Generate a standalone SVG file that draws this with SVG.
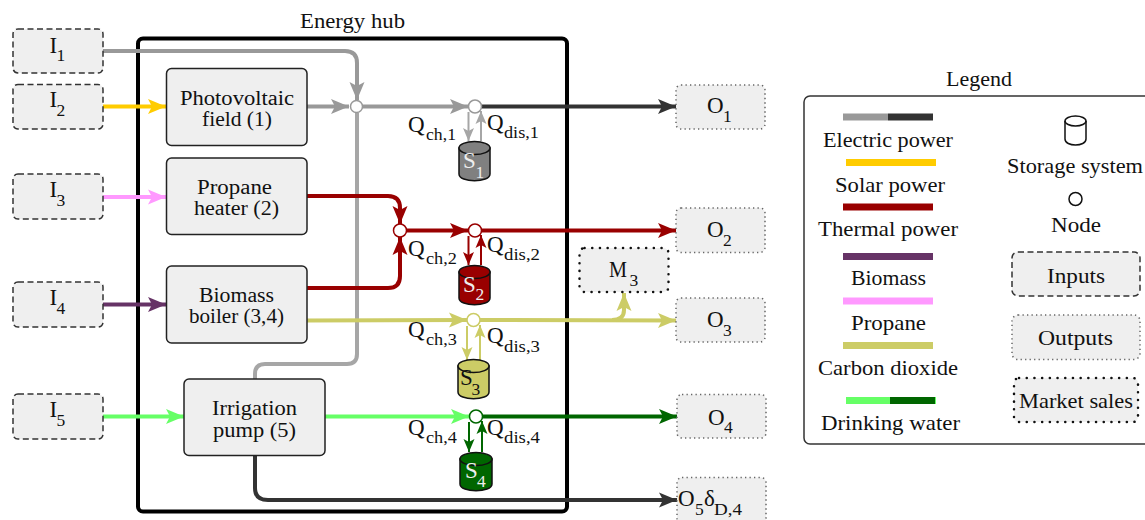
<svg xmlns="http://www.w3.org/2000/svg" width="1145" height="520" viewBox="0 0 1145 520">
<style>
text{font-family:"Liberation Serif","Times New Roman",serif;font-size:21px;fill:#111}
text.b{font-size:23px}
text.s{font-size:17.5px}
text.l{font-size:20px}
text.w{fill:#eee}
.box{fill:#efefef;stroke:#222;stroke-width:1.5}
.in{fill:#efefef;stroke:#333;stroke-width:1.5;stroke-dasharray:6 3.5}
.out{fill:#efefef;stroke:#666;stroke-width:1.5;stroke-dasharray:1.3 3.2}
.mk{fill:#efefef;stroke:#111;stroke-width:2.5;stroke-dasharray:0.1 7.6;stroke-linecap:round}
.c{fill:none;stroke-width:4}
.t{fill:none;stroke-width:2}
.n{fill:#fff;stroke-width:1.5}
.cy{stroke:#111;stroke-width:1.5}
.cf{fill:none;stroke:#111;stroke-width:1.5}
.g{stroke:#999}.gl{stroke:#a6a6a6}.d{stroke:#333}.y{stroke:#fc0}.r{stroke:#900}.p{stroke:#636}.v{stroke:#f9f}.o{stroke:#cc6}.lg{stroke:#6f6}.dg{stroke:#060}
</style>
<defs>
<marker id="ag" markerUnits="userSpaceOnUse" markerWidth="20" markerHeight="18" refX="18" refY="8" orient="auto" overflow="visible"><path d="M0,0.5 L18,8 L0,15.5 L4,8Z" fill="#999"/></marker>
<marker id="ad" markerUnits="userSpaceOnUse" markerWidth="20" markerHeight="18" refX="18" refY="8" orient="auto" overflow="visible"><path d="M0,0.5 L18,8 L0,15.5 L4,8Z" fill="#333"/></marker>
<marker id="ay" markerUnits="userSpaceOnUse" markerWidth="20" markerHeight="18" refX="18" refY="8" orient="auto" overflow="visible"><path d="M0,0.5 L18,8 L0,15.5 L4,8Z" fill="#fc0"/></marker>
<marker id="ar" markerUnits="userSpaceOnUse" markerWidth="20" markerHeight="18" refX="18" refY="8" orient="auto" overflow="visible"><path d="M0,0.5 L18,8 L0,15.5 L4,8Z" fill="#900"/></marker>
<marker id="ap" markerUnits="userSpaceOnUse" markerWidth="20" markerHeight="18" refX="18" refY="8" orient="auto" overflow="visible"><path d="M0,0.5 L18,8 L0,15.5 L4,8Z" fill="#636"/></marker>
<marker id="av" markerUnits="userSpaceOnUse" markerWidth="20" markerHeight="18" refX="18" refY="8" orient="auto" overflow="visible"><path d="M0,0.5 L18,8 L0,15.5 L4,8Z" fill="#f9f"/></marker>
<marker id="ao" markerUnits="userSpaceOnUse" markerWidth="20" markerHeight="18" refX="18" refY="8" orient="auto" overflow="visible"><path d="M0,0.5 L18,8 L0,15.5 L4,8Z" fill="#cc6"/></marker>
<marker id="al" markerUnits="userSpaceOnUse" markerWidth="20" markerHeight="18" refX="18" refY="8" orient="auto" overflow="visible"><path d="M0,0.5 L18,8 L0,15.5 L4,8Z" fill="#6f6"/></marker>
<marker id="ae" markerUnits="userSpaceOnUse" markerWidth="20" markerHeight="18" refX="18" refY="8" orient="auto" overflow="visible"><path d="M0,0.5 L18,8 L0,15.5 L4,8Z" fill="#060"/></marker>
<marker id="tg" markerUnits="userSpaceOnUse" markerWidth="14" markerHeight="14" refX="13" refY="6" orient="auto" overflow="visible"><path d="M0,0.5 L13,6 L0,11.5 L3,6Z" fill="#a6a6a6"/></marker>
<marker id="tr" markerUnits="userSpaceOnUse" markerWidth="14" markerHeight="14" refX="13" refY="6" orient="auto" overflow="visible"><path d="M0,0.5 L13,6 L0,11.5 L3,6Z" fill="#900"/></marker>
<marker id="to" markerUnits="userSpaceOnUse" markerWidth="14" markerHeight="14" refX="13" refY="6" orient="auto" overflow="visible"><path d="M0,0.5 L13,6 L0,11.5 L3,6Z" fill="#cc6"/></marker>
<marker id="te" markerUnits="userSpaceOnUse" markerWidth="14" markerHeight="14" refX="13" refY="6" orient="auto" overflow="visible"><path d="M0,0.5 L13,6 L0,11.5 L3,6Z" fill="#060"/></marker>
</defs>

<g id="hub">
<rect x="138" y="38.5" width="429" height="473" rx="5" fill="none" stroke="#000" stroke-width="4"/>
<text x="300" y="28" textLength="105" lengthAdjust="spacingAndGlyphs">Energy hub</text>
</g>

<g id="connectors">
<path class="c g" marker-end="url(#ag)" d="M103,51 H345 Q357,51 357,63 V100"/>
<path class="c gl" d="M255,379 V374 Q255,364 265,364 H347 Q357,364 357,354 V113"/>
<path class="c y" marker-end="url(#ay)" d="M103,106.5 H166"/>
<path class="c v" marker-end="url(#av)" d="M103,197 H166"/>
<path class="c p" marker-end="url(#ap)" d="M103,304.5 H166"/>
<path class="c lg" marker-end="url(#al)" d="M103,416.5 H184"/>
<path class="c g" marker-end="url(#ag)" d="M307,106.5 H349"/>
<path class="c g" marker-end="url(#ag)" d="M362,106.5 H468"/>
<path class="c d" marker-end="url(#ad)" d="M481,106.5 H676"/>
<path class="c r" marker-end="url(#ar)" d="M307,196 H388 Q400,196 400,208 V224"/>
<path class="c r" marker-end="url(#ar)" d="M307,288 H388 Q400,288 400,276 V237"/>
<path class="c r" marker-end="url(#ar)" d="M406,230.5 H468"/>
<path class="c r" marker-end="url(#ar)" d="M481,230.5 H676"/>
<path class="c o" marker-end="url(#ao)" d="M307,320.5 L467,320"/>
<path class="c o" marker-end="url(#ao)" d="M480,320 L676,320.5"/>
<path class="c o" marker-end="url(#ao)" d="M612,320 Q624,320 624,310 V293"/>
<path class="c lg" marker-end="url(#al)" d="M325,416.5 H469"/>
<path class="c dg" marker-end="url(#ae)" d="M482,416.5 H677"/>
<path class="c d" marker-end="url(#ad)" d="M255,455 V488 Q255,500 268,500 H677"/>
<path class="t gl" marker-end="url(#tg)" d="M468.5,112 V141"/>
<path class="t gl" marker-end="url(#tg)" d="M481,141 V111"/>
<path class="t r" marker-end="url(#tr)" d="M468.5,236 V265"/>
<path class="t r" marker-end="url(#tr)" d="M481,265 V235"/>
<path class="t o" marker-end="url(#to)" d="M467,326 V360"/>
<path class="t o" marker-end="url(#to)" d="M480,360 V325"/>
<path class="t dg" marker-end="url(#te)" d="M469,422 V452"/>
<path class="t dg" marker-end="url(#te)" d="M482,452 V421"/>
</g>

<g id="I1"><rect class="in" x="13" y="29" width="90" height="44" rx="5"/><text class="b" x="49.5" y="53">I</text><text class="s" x="56.5" y="61">1</text></g>
<g id="I2"><rect class="in" x="13" y="84.5" width="90" height="44.5" rx="5"/><text class="b" x="49.5" y="107">I</text><text class="s" x="56.5" y="116">2</text></g>
<g id="I3"><rect class="in" x="13" y="174" width="90" height="45" rx="5"/><text class="b" x="49.5" y="197">I</text><text class="s" x="56.5" y="206">3</text></g>
<g id="I4"><rect class="in" x="13" y="282" width="90" height="45" rx="5"/><text class="b" x="49.5" y="305">I</text><text class="s" x="56.5" y="314">4</text></g>
<g id="I5"><rect class="in" x="13" y="394" width="90" height="45" rx="5"/><text class="b" x="49.5" y="417">I</text><text class="s" x="56.5" y="426">5</text></g>

<g id="pv"><rect class="box" x="166.5" y="68.5" width="140.5" height="77" rx="5"/><text class="l" x="180" y="105" textLength="114" lengthAdjust="spacingAndGlyphs">Photovoltaic</text><text class="l" x="202" y="126" textLength="70" lengthAdjust="spacingAndGlyphs">field (1)</text></g>
<g id="heater"><rect class="box" x="166.5" y="158" width="140.5" height="76.5" rx="5"/><text class="l" x="197" y="194" textLength="75" lengthAdjust="spacingAndGlyphs">Propane</text><text class="l" x="194" y="215" textLength="85" lengthAdjust="spacingAndGlyphs">heater (2)</text></g>
<g id="boiler"><rect class="box" x="166.5" y="266" width="140.5" height="77" rx="5"/><text class="l" x="199" y="302" textLength="75" lengthAdjust="spacingAndGlyphs">Biomass</text><text class="l" x="189" y="323" textLength="95" lengthAdjust="spacingAndGlyphs">boiler (3,4)</text></g>
<g id="pump"><rect class="box" x="184" y="379" width="141" height="76.5" rx="5"/><text x="212" y="415" textLength="85" lengthAdjust="spacingAndGlyphs">Irrigation</text><text x="213" y="437" textLength="83" lengthAdjust="spacingAndGlyphs">pump (5)</text></g>

<g id="node1"><circle class="n g" cx="356.5" cy="106.5" r="6"/></g>
<g id="node2"><circle class="n g" cx="475" cy="106.5" r="6.5"/></g>
<g id="node3"><circle class="n r" cx="400" cy="230.5" r="6.5"/></g>
<g id="node4"><circle class="n r" cx="475" cy="230.5" r="6.5"/></g>
<g id="node5"><circle class="n o" cx="473.5" cy="320" r="6.5"/></g>
<g id="node6"><circle class="n dg" cx="476" cy="416.5" r="6.5"/></g>

<g id="S1"><path class="cy" fill="#808080" d="M459,148 V174 C459,183 490,183 490,174 V148Z"/><ellipse class="cy" fill="#808080" cx="474.5" cy="148" rx="15.5" ry="6.5"/><text class="b w" x="463" y="168">S</text><text class="s w" x="475.5" y="178">1</text></g>
<g id="S2"><path class="cy" fill="#900" d="M459,272 V298 C459,307 490,307 490,298 V272Z"/><ellipse class="cy" fill="#900" cx="474.5" cy="272" rx="15.5" ry="6.5"/><text class="b w" x="463" y="292">S</text><text class="s w" x="475.5" y="300">2</text></g>
<g id="S3"><path class="cy" fill="#cc6" d="M458,366 V392 C458,401 489,401 489,392 V366Z"/><ellipse class="cy" fill="#cc6" cx="473.5" cy="366" rx="15.5" ry="6.5"/><text class="b" x="460" y="385">S</text><text class="s" x="471.5" y="395">3</text></g>
<g id="S4"><path class="cy" fill="#060" d="M460,459 V484 C460,493 492,493 492,484 V459Z"/><ellipse class="cy" fill="#060" cx="476" cy="459" rx="16" ry="6.5"/><text class="b w" x="465" y="478">S</text><text class="s w" x="477" y="487">4</text></g>

<g id="flow-labels">
<text class="b" x="408" y="132">Q</text><text class="s" x="426" y="140" textLength="30" lengthAdjust="spacingAndGlyphs">ch,1</text>
<text class="b" x="487" y="130">Q</text><text class="s" x="504" y="138" textLength="35" lengthAdjust="spacingAndGlyphs">dis,1</text>
<text class="b" x="408" y="256">Q</text><text class="s" x="426" y="264" textLength="31" lengthAdjust="spacingAndGlyphs">ch,2</text>
<text class="b" x="487" y="252">Q</text><text class="s" x="504" y="260" textLength="36" lengthAdjust="spacingAndGlyphs">dis,2</text>
<text class="b" x="408" y="337">Q</text><text class="s" x="426" y="345" textLength="31" lengthAdjust="spacingAndGlyphs">ch,3</text>
<text class="b" x="487" y="343">Q</text><text class="s" x="504" y="352" textLength="36" lengthAdjust="spacingAndGlyphs">dis,3</text>
<text class="b" x="408" y="435">Q</text><text class="s" x="426" y="443" textLength="31" lengthAdjust="spacingAndGlyphs">ch,4</text>
<text class="b" x="487" y="435">Q</text><text class="s" x="504" y="443" textLength="36" lengthAdjust="spacingAndGlyphs">dis,4</text>
</g>

<g id="O1"><rect class="out" x="676" y="85" width="89" height="44" rx="5"/><text class="b" x="707" y="113">O</text><text class="s" x="723" y="122">1</text></g>
<g id="O2"><rect class="out" x="676" y="208" width="89" height="44.5" rx="5"/><text class="b" x="707" y="237">O</text><text class="s" x="723" y="246">2</text></g>
<g id="O3"><rect class="out" x="676" y="298" width="89" height="44" rx="5"/><text class="b" x="707" y="327">O</text><text class="s" x="723" y="336">3</text></g>
<g id="O4"><rect class="out" x="677" y="394.5" width="89" height="43.5" rx="5"/><text class="b" x="708" y="425">O</text><text class="s" x="724" y="433">4</text></g>
<g id="O5"><rect class="out" x="677" y="477.5" width="89" height="46" rx="5"/><text class="b" x="678" y="506">O</text><text class="s" x="695" y="515">5</text><text class="b" x="704" y="506">δ</text><text class="s" x="714" y="515" textLength="28" lengthAdjust="spacingAndGlyphs">D,4</text></g>
<g id="M3"><rect class="mk" x="579.5" y="248" width="89" height="44" rx="5"/><text class="b" x="609" y="277" textLength="18" lengthAdjust="spacingAndGlyphs">M</text><text class="s" x="629.5" y="286">3</text></g>

<g id="legend">
<rect x="804" y="96" width="360" height="348" rx="6" fill="#fff" stroke="#333" stroke-width="1.5"/>
<text x="946" y="86" textLength="66" lengthAdjust="spacingAndGlyphs">Legend</text>
<g stroke-width="7" fill="none">
<path class="g" d="M843,117 H888"/><path class="d" d="M888,117 H933"/>
<path class="y" d="M846,162.5 H936"/>
<path class="r" d="M843,207 H933"/>
<path class="p" d="M843,256.5 H933"/>
<path class="v" d="M843,301 H933"/>
<path class="o" d="M843,345.5 H933"/>
<path class="lg" d="M846,400.5 H936"/><path class="dg" d="M890,400.5 H935"/>
</g>
<text x="823" y="147" textLength="130" lengthAdjust="spacingAndGlyphs">Electric power</text>
<text x="835" y="192" textLength="110" lengthAdjust="spacingAndGlyphs">Solar power</text>
<text x="818" y="236" textLength="140" lengthAdjust="spacingAndGlyphs">Thermal power</text>
<text x="851" y="285" textLength="75" lengthAdjust="spacingAndGlyphs">Biomass</text>
<text x="851" y="330" textLength="75" lengthAdjust="spacingAndGlyphs">Propane</text>
<text x="818" y="375" textLength="140" lengthAdjust="spacingAndGlyphs">Carbon dioxide</text>
<text x="821" y="430" textLength="139" lengthAdjust="spacingAndGlyphs">Drinking water</text>
<path class="cf" d="M1065,121 V139 C1065,147 1086,147 1086,139 V121"/><ellipse class="cf" cx="1075.5" cy="121" rx="10.5" ry="5"/>
<text x="1007" y="173" textLength="136" lengthAdjust="spacingAndGlyphs">Storage system</text>
<circle cx="1075.5" cy="199" r="6.5" fill="#fff" stroke="#111" stroke-width="1.5"/>
<text x="1051" y="232" textLength="50" lengthAdjust="spacingAndGlyphs">Node</text>
<rect class="in" x="1012" y="252" width="128" height="44" rx="6"/><text x="1047" y="283" textLength="58" lengthAdjust="spacingAndGlyphs">Inputs</text>
<rect class="out" x="1012" y="315" width="128" height="44.5" rx="6"/><text x="1038" y="345" textLength="75" lengthAdjust="spacingAndGlyphs">Outputs</text>
<rect class="mk" x="1014" y="378" width="124" height="44" rx="5"/><text x="1019" y="408" textLength="114" lengthAdjust="spacingAndGlyphs">Market sales</text>
</g>
</svg>
